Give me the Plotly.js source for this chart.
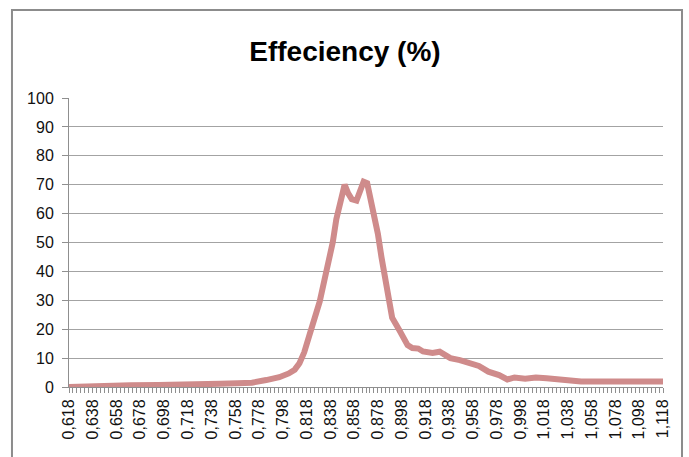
<!DOCTYPE html>
<html>
<head>
<meta charset="utf-8">
<script src="https://cdn.plot.ly/plotly-3.0.1.min.js"></script>
<style>html,body{margin:0;padding:0;background:#fff;}#chart{width:689px;height:457px;}</style>
</head>
<body>
<div id="chart"></div>
<script>
// Voltage (V)
const voltage = [0.618,0.630,0.651,0.670,0.693,0.715,0.730,0.745,0.760,0.772,0.784,0.795,0.803,0.808,0.812,0.816,0.820,0.824,0.829,0.833,0.837,0.840,0.843,0.846,0.850,0.853,0.856,0.860,0.863,0.866,0.869,0.872,0.875,0.878,0.881,0.885,0.890,0.896,0.900,0.903,0.907,0.912,0.916,0.920,0.924,0.930,0.934,0.939,0.947,0.954,0.963,0.971,0.980,0.987,0.993,1.002,1.011,1.020,1.029,1.037,1.049,1.118];
// Efficiency (%)
const efficiency = [0.0,0.2,0.4,0.6,0.7,0.7,0.8,1.1,1.3,1.5,2.4,3.4,4.7,6.0,8.2,12,17.4,23,29.5,37,44,50,58,64,70,67,65,64.5,68,71,70.5,65,60,53,45,35,24,19.7,16.5,14.5,13.5,13.3,12.3,11.8,11.8,12.2,11,10,9.3,8.2,7.3,5.3,4.1,2.6,3.3,2.9,3.3,3.0,2.8,2.2,1.9,1.9];
const titleText = 'Effeciency (%)';

const axisGray = '#8f8f8f';
const trace = {
  x: voltage, y: efficiency, type: 'scatter', mode: 'lines',
  line: {color: '#CF8B8B', width: 6}, hoverinfo: 'x+y'
};
const layout = {
  width: 689, height: 457,
  margin: {l: 69, r: 26, t: 98, b: 70, pad: 0},
  paper_bgcolor: '#fff', plot_bgcolor: '#fff',
  separators: ',.',
  showlegend: false,
  font: {family: 'Liberation Sans, Arial, sans-serif', size: 16, color: '#111'},
  title: {text: titleText, font: {family: 'Liberation Sans, Arial, sans-serif', size: 28, weight: 'bold', color: '#000'},
          xref: 'container', x: 0.5007, xanchor: 'center', yref: 'container', y: 0.888, yanchor: 'middle'},
  xaxis: {
    range: [0.618, 1.118], tick0: 0.618, dtick: 0.02, tickformat: '.3f', tickangle: -90,
    showgrid: false, zeroline: false, showline: true, linecolor: axisGray, linewidth: 1,
    ticks: 'outside', ticklen: 5, tickcolor: axisGray, tickfont: {size: 16, color: '#111'},
    minor: {tick0: 0.618, dtick: 0.02/6, ticks: 'outside', ticklen: 5, tickcolor: axisGray, showgrid: false},
    fixedrange: true
  },
  yaxis: {
    range: [0, 100], dtick: 10, showgrid: true, gridcolor: '#a3a3a3', gridwidth: 1,
    zeroline: false, showline: true, linecolor: axisGray, linewidth: 1,
    ticks: 'outside', ticklen: 6, tickcolor: axisGray, tickfont: {size: 16, color: '#111'},
    ticklabelstandoff: 5,
    fixedrange: true
  },
  shapes: [{
    type: 'rect', xref: 'paper', yref: 'paper',
    x0: -0.0960, x1: 1.0320, y0: -0.29, y1: 1.3045,
    line: {color: '#8c8c8c', width: 2}, fillcolor: 'rgba(0,0,0,0)', layer: 'below'
  }]
};
Plotly.newPlot('chart', [trace], layout, {displayModeBar: false, staticPlot: true});
</script>
</body>
</html>
